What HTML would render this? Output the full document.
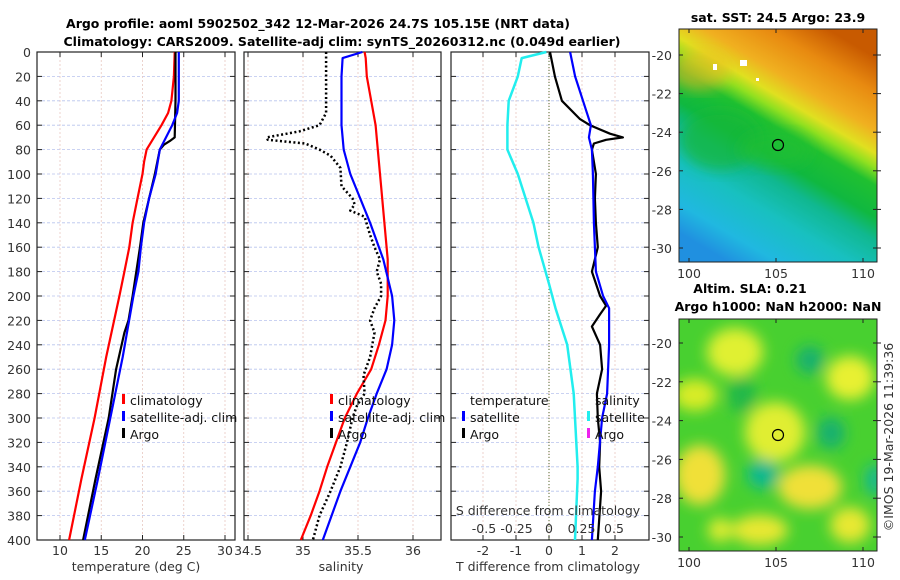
<!DOCTYPE html>
<html><head><meta charset="utf-8">
<style>
html,body{margin:0;padding:0;background:#fff;}
svg{display:block;font-family:"DejaVu Sans","Liberation Sans",sans-serif;}
.tk{font-size:12.5px;fill:#333;}
.ttl{font-size:12.5px;font-weight:bold;fill:#000;}
.lg{font-size:12.5px;fill:#111;}
</style></head>
<body>
<svg id="chart" width="900" height="580" viewBox="0 0 900 580" xmlns="http://www.w3.org/2000/svg">
<defs>
<linearGradient id="sstg" x1="0.75" y1="0" x2="0.25" y2="1">
<stop offset="0" stop-color="#c85a00"/>
<stop offset="0.12" stop-color="#e88a10"/>
<stop offset="0.25" stop-color="#f0b020"/>
<stop offset="0.33" stop-color="#e0e020"/>
<stop offset="0.38" stop-color="#90e020"/>
<stop offset="0.44" stop-color="#20c030"/>
<stop offset="0.55" stop-color="#10b840"/>
<stop offset="0.63" stop-color="#10b890"/>
<stop offset="0.75" stop-color="#18c0c0"/>
<stop offset="0.9" stop-color="#20b8e0"/>
<stop offset="1" stop-color="#2090e0"/>
</linearGradient>
<filter id="blur" x="-20%" y="-20%" width="140%" height="140%"><feGaussianBlur stdDeviation="7"/></filter>
<clipPath id="m1c"><rect x="679" y="29" width="198" height="233"/></clipPath>
<clipPath id="m2c"><rect x="679" y="319" width="198" height="232"/></clipPath>
</defs>
<g id="titles">
<text class="ttl" x="318" y="28" text-anchor="middle">Argo profile: aoml 5902502_342 12-Mar-2026 24.7S 105.15E (NRT data)</text>
<text class="ttl" x="342" y="46" text-anchor="middle">Climatology: CARS2009. Satellite-adj clim: synTS_20260312.nc (0.049d earlier)</text>
</g>
<g id="panels"></g>
<g id="maps">
<text class="ttl" x="778" y="22" text-anchor="middle">sat. SST: 24.5 Argo: 23.9</text>
<g clip-path="url(#m1c)">
<rect x="679" y="29" width="198" height="233" fill="url(#sstg)"/>
<ellipse cx="720" cy="140" rx="40" ry="30" fill="#18b838" opacity="0.7" filter="url(#blur)"/>
<ellipse cx="775" cy="150" rx="35" ry="18" fill="#20c030" opacity="0.6" filter="url(#blur)"/>
<ellipse cx="700" cy="70" rx="30" ry="20" fill="#f0b820" opacity="0.6" filter="url(#blur)"/>
<rect x="713" y="64" width="4" height="6" fill="#fff"/>
<rect x="740" y="60" width="7" height="6" fill="#fff"/>
<rect x="756" y="78" width="3" height="3" fill="#fff"/>
</g>
<rect x="679" y="29" width="198" height="233" fill="none" stroke="#222"/>
<circle cx="778" cy="145" r="5.5" fill="none" stroke="#000" stroke-width="1.2"/>
<text class="ttl" x="750" y="293" text-anchor="middle">Altim. SLA: 0.21</text>
<text class="ttl" x="778" y="311" text-anchor="middle">Argo h1000: NaN h2000: NaN</text>
<g clip-path="url(#m2c)">
<rect x="679" y="319" width="198" height="232" fill="#48d030"/>
<g filter="url(#blur)">
<ellipse cx="735" cy="352" rx="28" ry="24" fill="#e0f030"/>
<ellipse cx="850" cy="378" rx="24" ry="22" fill="#e8f030"/>
<ellipse cx="695" cy="395" rx="22" ry="16" fill="#d8ec28"/>
<ellipse cx="775" cy="432" rx="30" ry="30" fill="#e0ee30"/>
<ellipse cx="700" cy="475" rx="25" ry="30" fill="#f0e038"/>
<ellipse cx="810" cy="487" rx="32" ry="22" fill="#f0e038"/>
<ellipse cx="760" cy="530" rx="28" ry="15" fill="#e8e830"/>
<ellipse cx="850" cy="525" rx="20" ry="18" fill="#e8e830"/>
<ellipse cx="720" cy="530" rx="12" ry="12" fill="#e0ec30"/>
<ellipse cx="763" cy="474" rx="16" ry="15" fill="#10b890"/>
<ellipse cx="810" cy="360" rx="14" ry="14" fill="#18b070"/>
<ellipse cx="831" cy="433" rx="14" ry="16" fill="#18b070"/>
<ellipse cx="875" cy="480" rx="10" ry="16" fill="#18b890"/>
<ellipse cx="742" cy="395" rx="14" ry="18" fill="#20b848"/>
</g>
</g>
<rect x="679" y="319" width="198" height="232" fill="none" stroke="#222"/>
<circle cx="778" cy="435" r="5.5" fill="none" stroke="#000" stroke-width="1.2"/>
<text class="tk" x="893" y="437" text-anchor="middle" transform="rotate(-90 893 437)">©IMOS 19-Mar-2026 11:39:36</text>
</g>
</svg>
<script>
// ---- data ----
const depthT = [0,20,40,50,60,70,80,90,100,120,140,160,180,200,250,300,350,400];
const tempClim = [23.9,23.8,23.5,23.1,22.3,21.4,20.5,20.2,20.0,19.4,18.8,18.4,17.8,17.2,15.6,14.2,12.6,11.1];
const depthTS = [0,40,50,60,80,100,120,140,160,180,200,250,300,350,400];
const tempSat = [24.4,24.4,24.2,23.6,22.1,21.6,20.8,20.2,19.8,19.5,18.9,17.6,16.1,14.6,13.0];
const depthTA = [0,40,70,73,76,80,100,120,140,160,200,220,230,260,300,350,400];
const tempArgo = [24.0,24.0,23.9,23.3,22.6,22.1,21.5,20.8,20.1,19.7,18.8,18.3,17.8,16.8,15.9,14.3,12.8];
const depthS = [0,5,20,60,80,100,140,170,200,220,240,260,280,300,320,340,360,380,400];
const salClim = [35.56,35.57,35.58,35.66,35.68,35.70,35.74,35.77,35.77,35.75,35.69,35.62,35.49,35.38,35.30,35.22,35.15,35.07,34.98];
const salSat = [35.54,35.36,35.35,35.35,35.37,35.43,35.61,35.73,35.81,35.83,35.81,35.76,35.67,35.59,35.52,35.43,35.34,35.26,35.18];
const depthSA = [0,50,60,65,70,72,75,80,85,95,110,120,125,130,135,150,160,170,180,190,200,210,220,230,250,265,280,290,300,320,340,360,380,400];
const salArgo = [35.21,35.21,35.15,34.97,34.67,34.68,35.02,35.15,35.25,35.34,35.35,35.45,35.47,35.43,35.56,35.61,35.65,35.70,35.67,35.71,35.71,35.65,35.61,35.65,35.61,35.55,35.56,35.49,35.45,35.40,35.34,35.25,35.15,35.09];
const depthD = [0,5,20,40,60,80,100,120,140,160,190,210,240,280,300,340,350,400];
const sDiffSat = [-0.02,-0.21,-0.24,-0.31,-0.32,-0.32,-0.24,-0.18,-0.12,-0.08,0.0,0.05,0.14,0.19,0.20,0.22,0.22,0.20];
const depthDT = [0,20,40,60,70,80,100,140,180,200,210,240,280,300,340,360,400];
const tDiffSat = [0.64,0.79,1.03,1.27,1.21,1.30,1.33,1.36,1.42,1.64,1.82,1.82,1.76,1.61,1.48,1.39,1.30];
const depthDA = [0,20,40,55,60,67,70,72,75,80,100,120,140,160,180,200,208,215,225,240,260,280,300,320,340,360,400];
const tDiffArgo = [0.03,0.18,0.39,0.94,1.24,1.85,2.24,1.73,1.36,1.30,1.42,1.39,1.42,1.48,1.30,1.55,1.73,1.55,1.30,1.55,1.61,1.45,1.48,1.55,1.52,1.58,1.48];
const depthTicks = [0,20,40,60,80,100,120,140,160,180,200,220,240,260,280,300,320,340,360,380,400];
const tTicks = [10,15,20,25,30];
const sTicks = [34.5,35,35.5,36];
const dTicks = [-2,-1,0,1,2];
const sdTicks = [-0.5,-0.25,0,0.25,0.5];
const sdLabels = ['-0.5','-0.25','0','0.25','0.5'];
const lonTicks = [100,105,110];
const latTicks = [-20,-22,-24,-26,-28,-30];

// ---- axes ----
const NS='http://www.w3.org/2000/svg';
const Y0=52, Y1=540;
const yD = d => Y0 + d*(Y1-Y0)/400;
const xT = t => 60 + (t-10)*8.25;
const xS = s => 248 + (s-34.5)*110;
const xDT = v => 549 + v*33;
const xDS = v => 549 + v*130;
const lonX1 = l => 689 + (l-100)*17.4;
const latY1 = l => 55 + (-20-l)*19.3;
const latY2 = l => 343 + (-20-l)*19.4;

const root=document.getElementById('panels');
function el(tag,attrs,parent){const e=document.createElementNS(NS,tag);for(const k in attrs)e.setAttribute(k,attrs[k]);(parent||root).appendChild(e);return e;}
function txt(s,attrs,parent){const e=el('text',attrs,parent);e.textContent=s;return e;}

function panel(name,L,R,xticks,xf,labels){
  const g=el('g',{});
  
  
  depthTicks.forEach(d=>{const y=yD(d);
    const ln=el('line',{x1:L,x2:R,y1:y,y2:y,stroke:'#b8c4ee','stroke-width':0.8,'stroke-dasharray':'3,2'},g);
    
    
    el('line',{x1:L,x2:L+5,y1:y,y2:y,stroke:'#222'},g);
    el('line',{x1:R-5,x2:R,y1:y,y2:y,stroke:'#222'},g);
  });
  xticks.forEach((t,i)=>{const x=xf(t);
    if(x>L+1&&x<R-1){const ln=el('line',{x1:x,x2:x,y1:Y0,y2:Y1,stroke:'#e8c8c0','stroke-width':0.8,'stroke-dasharray':'2,2'},g);
    
    }
    el('line',{x1:x,x2:x,y1:Y1-5,y2:Y1,stroke:'#222'},g);
    el('line',{x1:x,x2:x,y1:Y0,y2:Y0+5,stroke:'#222'},g);
    const tl=txt(labels?labels[i]:String(t),{class:'tk',x:x,y:555,'text-anchor':'middle'},g);
    
    
  });
  const fr=el('rect',{x:L,y:Y0,width:R-L,height:Y1-Y0,fill:'none',stroke:'#222','stroke-width':1.2},g);
  
  
  return g;
}
function line(g,name,ds,vs,xf,color,w,dash){
  const pts=ds.map((d,i)=>xf(vs[i]).toFixed(1)+','+yD(d).toFixed(1)).join(' ');
  const p=el('polyline',{points:pts,fill:'none',stroke:color,'stroke-width':w,'stroke-linejoin':'round'},g);
  if(dash)p.setAttribute('stroke-dasharray',dash);
  
  
}
function legend(g,x,y,items){
  items.forEach((it,i)=>{const yy=y+i*17;
    el('rect',{x:x,y:yy-11,width:3,height:10,fill:it[1]},g);
    const t=txt(it[0],{class:'lg',x:x+8,y:yy},g);
    
    
  });
}

// panel 1
const g1=panel('temperature-panel',37,235,tTicks,xT);
depthTicks.forEach(d=>{const t=txt(String(d),{class:'tk',x:31,y:yD(d)+5,'text-anchor':'end'},g1);
  
  });
line(g1,'temp-climatology-line',depthT,tempClim,xT,'#ff0000',2.2);
line(g1,'temp-argo-line',depthTA,tempArgo,xT,'#000',2.2);
line(g1,'temp-satellite-line',depthTS,tempSat,xT,'#0000ff',2.2);
legend(g1,122,405,[['climatology','#f00'],['satellite-adj. clim','#00f'],['Argo','#000']]);
let t1=txt('temperature (deg C)',{class:'tk',x:136,y:571,'text-anchor':'middle'},g1);



// panel 2
const g2=panel('salinity-panel',244,441,sTicks,xS);
line(g2,'sal-climatology-line',depthS,salClim,xS,'#ff0000',2.2);
line(g2,'sal-satellite-line',depthS,salSat,xS,'#0000ff',2.2);
line(g2,'sal-argo-line',depthSA,salArgo,xS,'#000',2.5,'2,2.5');
legend(g2,330,405,[['climatology','#f00'],['satellite-adj. clim','#00f'],['Argo','#000']]);
let t2=txt('salinity',{class:'tk',x:341,y:571,'text-anchor':'middle'},g2);



// panel 3
const g3=panel('difference-panel',451,649,dTicks,xDT);
el('line',{x1:549,x2:549,y1:Y0,y2:Y1,stroke:'#556b2f','stroke-width':1,'stroke-dasharray':'1,2'},g3);
line(g3,'sdiff-satellite-line',depthD,sDiffSat,xDS,'#22eeee',2.5);
line(g3,'tdiff-argo-line',depthDA,tDiffArgo,xDT,'#000',2.2);
line(g3,'tdiff-satellite-line',depthDT,tDiffSat,xDT,'#0000ff',2.2);
let lt=txt('temperature',{class:'lg',x:470,y:405},g3);


legend(g3,462,422,[['satellite','#00f'],['Argo','#000']]);
let ls=txt('salinity',{class:'lg',x:595,y:405},g3);


legend(g3,587,422,[['satellite','#2ee'],['Argo','#e2e']]);
let sdT=txt('S difference from climatology',{class:'tk',x:548,y:515,'text-anchor':'middle'},g3);


sdTicks.forEach((v,i)=>{const t=txt(sdLabels[i],{class:'tk',x:xDS(v),y:533,'text-anchor':'middle'},g3);
  
  });
let t3=txt('T difference from climatology',{class:'tk',x:548,y:571,'text-anchor':'middle'},g3);



// map axes
const maps=document.getElementById('maps');
function mapAxes(top,bot,latY){
  lonTicks.forEach(l=>{const x=lonX1(l);
    el('line',{x1:x,x2:x,y1:bot-4,y2:bot,stroke:'#222'},maps);
    el('line',{x1:x,x2:x,y1:top,y2:top+4,stroke:'#222'},maps);
    const t=txt(String(l),{class:'tk',x:x,y:bot+16,'text-anchor':'middle'},maps);
    
    });
  latTicks.forEach(l=>{const y=latY(l);
    el('line',{x1:679,x2:683,y1:y,y2:y,stroke:'#222'},maps);
    el('line',{x1:873,x2:881,y1:y,y2:y,stroke:'#222'},maps);
    const t=txt(String(l),{class:'tk',x:672,y:y+5,'text-anchor':'end'},maps);
    
    });
}
mapAxes(29,262,latY1);
mapAxes(319,551,latY2);
</script>
</body></html>
